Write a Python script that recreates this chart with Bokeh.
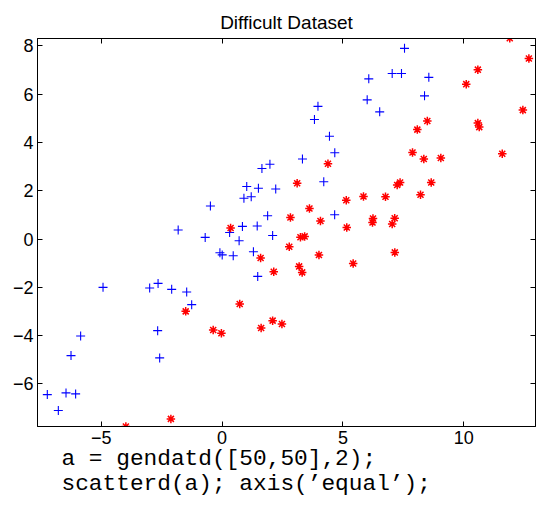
from bokeh.plotting import figure
from bokeh.models import LinearAxis, FixedTicker, Range1d, Title
from bokeh.embed import file_html
from bokeh.resources import INLINE

# ---- data ----
blue_x = [7.549, 7.039, 7.424, 6.070, 8.555, 6.004, 8.377, 6.522, 3.967, 3.822,
          4.443, 4.663, 3.325, 1.648, 1.979, 4.207, 1.019, 1.503, 2.219, 0.903,
          1.205, -0.484, 1.884, 4.658, 0.841, 1.453, -1.818, -0.700, 0.311, 0.704,
          2.091, -0.091, 0.004, 0.460, 1.296, 1.474, -4.928, -2.998, -2.650, -2.087,
          -1.466, -1.259, -2.667, -5.855, -6.253, -2.584, -7.234, -6.460, -6.062, -6.778]
blue_y = [7.901, 6.857, 6.857, 6.638, 6.700, 5.768, 5.934, 5.271, 5.499, 4.952,
          4.257, 3.574, 3.313, 2.923, 3.097, 2.373, 2.178, 2.104, 2.070, 1.689,
          1.752, 1.371, 0.965, 1.006, 0.522, 0.542, 0.373, 0.066, 0.269, -0.070,
          0.145, -0.567, -0.658, -0.692, -0.526, -1.549, -2.004, -2.029, -1.839, -2.087,
          -2.195, -2.720, -3.797, -4.017, -4.832, -4.928, -6.447, -6.377, -6.418, -7.110]
red_x = [11.905, 12.696, 10.584, 10.104, 12.447, 8.493, 8.079, 10.584, 10.642, 7.880,
         8.348, 9.052, 11.594, 7.246, 7.366, 8.654, 8.211, 6.762, 5.851, 4.381,
         3.106, 5.139, 3.615, 2.828, 4.070, 6.244, 6.224, 7.143, 7.039, 0.352,
         5.159, 3.242, 3.416, 2.779, 4.008, 1.594, 5.424, 7.147, 2.137, 3.188,
         3.313, 0.729, -1.507, -0.369, -0.029, 1.615, 2.091, 2.476, -2.120, -3.983]
red_y = [8.323, 7.478, 7.019, 6.418, 5.342, 4.890, 4.534, 4.803, 4.638, 3.586,
         3.313, 3.358, 3.532, 2.240, 2.344, 2.344, 1.834, 1.752, 1.760, 3.118,
         2.311, 1.607, 1.267, 0.890, 0.749, 0.853, 0.687, 0.861, 0.621, 0.455,
         0.480, 0.075, 0.108, -0.319, -0.663, -0.787, -1.014, -0.555, -1.354, -1.135,
         -1.383, -2.692, -2.998, -3.768, -3.909, -3.685, -3.383, -3.520, -7.454, -7.772]

x_ticks = [-5, 0, 5, 10]
x_tick_labels = ["\u22125", "0", "5", "10"]
y_ticks = [-6, -4, -2, 0, 2, 4, 6, 8]
y_tick_labels = ["\u22126", "\u22124", "\u22122", "0", "2", "4", "6", "8"]
x_limits = (-7.64, 12.97)
y_limits = (-7.77, 8.31)
title_text = "Difficult Dataset"
code_lines = ["a = gendatd([50,50],2);", "scatterd(a); axis(\u2019equal\u2019);"]

TICK_FONT = "Liberation Sans"

p = figure(width=536, height=520, output_backend="svg", toolbar_location=None,
           x_range=Range1d(*x_limits), y_range=Range1d(*y_limits),
           min_border_left=37, min_border_right=1, min_border_top=38,
           min_border_bottom=94, background_fill_color="white",
           border_fill_color="white")
p.grid.visible = False
p.outline_line_color = "black"
p.outline_line_width = 1

p.title.text = title_text
p.title.align = "center"
p.title.offset = 5
p.title.text_font = TICK_FONT
p.title.text_font_size = "19px"
p.title.text_font_style = "normal"
p.title.text_color = "black"
p.title.standoff = 12

def style_axis(ax, ticks, labels):
    ax.ticker = FixedTicker(ticks=ticks)
    ax.major_label_overrides = {t: l for t, l in zip(ticks, labels)}
    ax.major_tick_in = 5
    ax.major_tick_out = 0
    ax.minor_tick_in = 0
    ax.minor_tick_out = 0
    ax.axis_line_color = "black"
    ax.major_tick_line_color = "black"
    ax.major_label_text_font = TICK_FONT
    ax.major_label_text_color = "black"
    ax.major_label_text_font_size = "18px"
    ax.major_label_standoff = 4

def mirror_axis(ticks):
    # ticks only (drawn as minor ticks so that no labels are produced)
    ax = LinearAxis(ticker=FixedTicker(ticks=[], minor_ticks=ticks))
    ax.major_tick_in = 0
    ax.major_tick_out = 0
    ax.minor_tick_in = 5
    ax.minor_tick_out = 0
    ax.minor_tick_line_color = "black"
    ax.axis_line_color = "black"
    ax.major_label_standoff = 0
    return ax

style_axis(p.xaxis[0], x_ticks, x_tick_labels)
style_axis(p.yaxis[0], y_ticks, y_tick_labels)
p.add_layout(mirror_axis(x_ticks), "above")
p.add_layout(mirror_axis(y_ticks), "right")

p.scatter(blue_x, blue_y, marker="cross", size=9, line_color="#0000ff",
          line_width=1.1)
p.scatter(red_x, red_y, marker="asterisk", size=8.5, line_color="#ff0000",
          line_width=1.5)

for i, line in enumerate(code_lines):
    p.add_layout(Title(text=line, align="left", offset=24,
                       text_font="Liberation Mono", text_font_size="22.8px",
                       text_font_style="normal", text_color="black",
                       standoff=-6 if i == 0 else 0), "below")

open("out.html", "w").write(file_html(p, INLINE))
